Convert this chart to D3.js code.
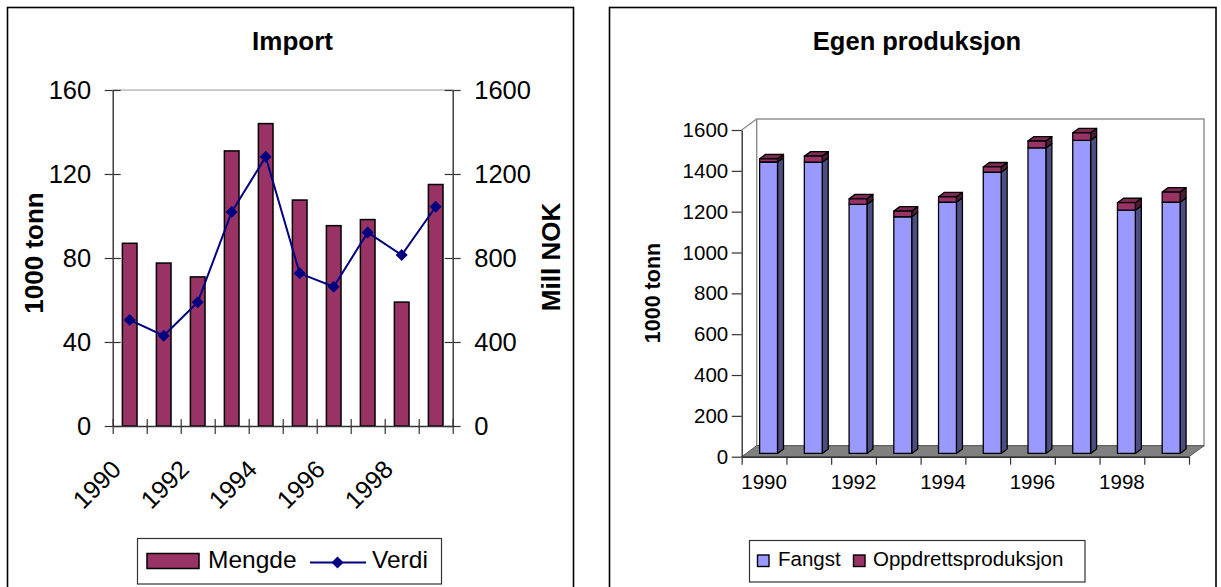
<!DOCTYPE html>
<html>
<head>
<meta charset="utf-8">
<script src="https://cdn.jsdelivr.net/npm/d3@7"></script>
<style>
  html, body { margin: 0; padding: 0; background: #fff; }
  svg { display: block; }
  text { font-family: "Liberation Sans", Arial, Helvetica, sans-serif; fill: #000; }
</style>
</head>
<body>
<svg id="chart" width="1221" height="587"></svg>
<script>
// ---------- data ----------
const years = ["1990", "1991", "1992", "1993", "1994", "1995", "1996", "1997", "1998", "1999"];
const yearLabels = ["1990", "1992", "1994", "1996", "1998"];

// Import: quantity (1000 tonn) and value (Mill NOK)
const mengde = [87, 77.6, 71, 131, 144, 107.6, 95.4, 98.3, 59, 115];
const verdi = [505, 430, 589, 1019, 1282, 727, 663, 922, 814, 1044];
const mengdeTicks = [0, 40, 80, 120, 160];
const verdiTicks = [0, 400, 800, 1200, 1600];

// Own production (1000 tonn): catch and aquaculture
const fangst = [1427, 1426, 1220, 1159, 1230, 1377, 1496, 1533, 1191, 1230];
const oppdrett = [16, 30, 27, 28, 27, 26, 34, 37, 37, 50];
const prodTicks = [0, 200, 400, 600, 800, 1000, 1200, 1400, 1600];

const svg = d3.select("#chart");
const AXIS = "#333";
const plain = d3.format("d");

// ---------- panel frames ----------
svg.append("rect").attr("x", 7.5).attr("y", 7.5).attr("width", 566).attr("height", 600)
  .attr("fill", "#fff").attr("stroke", "#000").attr("stroke-width", 1.6);
svg.append("rect").attr("x", 609.5).attr("y", 7.5).attr("width", 606.5).attr("height", 600)
  .attr("fill", "#fff").attr("stroke", "#000").attr("stroke-width", 1.6);

// diamond marker path
const diamond = r => `M0,${-r}L${r},0L0,${r}L${-r},0Z`;

// =====================================================
// Import chart
// =====================================================
(function importChart() {
  const x0 = 112.7, x1 = 452.7, yb = 426, yt = 90;
  const xCat = d3.scaleBand().domain(years).range([x0, x1]);
  const xEdge = d3.scaleLinear().domain([0, years.length]).range([x0, x1]);
  const yQ = d3.scaleLinear().domain([0, 160]).range([yb, yt]);
  const yV = d3.scaleLinear().domain([0, 1600]).range([yb, yt]);
  const g = svg.append("g");

  // title
  g.append("text").attr("x", 292.5).attr("y", 50).attr("text-anchor", "middle")
    .attr("font-weight", "bold").attr("font-size", 26).text("Import");

  // top border of plot area
  g.append("line").attr("x1", x0).attr("x2", x1).attr("y1", yt).attr("y2", yt)
    .attr("stroke", "#9a9a9a").attr("stroke-width", 1.2);

  // bars
  const barW = xCat.bandwidth() * 0.43;
  g.selectAll("rect.bar").data(mengde).join("rect").attr("class", "bar")
    .attr("x", (d, i) => xCat(years[i]) + (xCat.bandwidth() - barW) / 2)
    .attr("width", barW)
    .attr("y", d => yQ(d))
    .attr("height", d => yb - yQ(d))
    .attr("fill", "#993366").attr("stroke", "#000").attr("stroke-width", 1.5);

  // left axis with crossing ticks
  const axL = g.append("g").attr("transform", `translate(${x0},0)`)
    .call(d3.axisLeft(yQ).tickValues(mengdeTicks).tickFormat(plain)
      .tickSizeInner(8).tickSizeOuter(0).tickPadding(13.5));
  axL.selectAll(".tick").append("line").attr("x2", 8).attr("stroke", AXIS);
  // right axis
  const axR = g.append("g").attr("transform", `translate(${x1},0)`)
    .call(d3.axisRight(yV).tickValues(verdiTicks).tickFormat(plain)
      .tickSizeInner(8).tickSizeOuter(0).tickPadding(13.5));
  axR.selectAll(".tick").append("line").attr("x2", -8).attr("stroke", AXIS);
  // bottom axis: ticks on category edges
  const axB = g.append("g").attr("transform", `translate(0,${yb})`)
    .call(d3.axisBottom(xEdge).ticks(years.length).tickFormat("").tickSizeInner(8).tickSizeOuter(0));
  axB.selectAll(".tick").append("line").attr("y2", -7).attr("stroke", AXIS);

  [axL, axR, axB].forEach(a => {
    a.select(".domain").attr("stroke", AXIS).attr("stroke-width", 1.4);
    a.selectAll(".tick line").attr("stroke", AXIS).attr("stroke-width", 1.2);
    a.selectAll(".tick text").attr("font-size", 25.5).attr("fill", "#000")
      .attr("font-family", "\"Liberation Sans\", Arial, sans-serif");
  });

  // rotated year labels
  g.selectAll("text.xl").data(yearLabels).join("text").attr("class", "xl")
    .attr("text-anchor", "end").attr("font-size", 25)
    .attr("transform", d => `translate(${xCat(d) + xCat.bandwidth() / 2 - 7},${yb + 45}) rotate(-45)`)
    .text(d => d);

  // value line with diamonds
  const line = d3.line().x((d, i) => xCat(years[i]) + xCat.bandwidth() / 2).y(d => yV(d));
  g.append("path").attr("d", line(verdi)).attr("fill", "none")
    .attr("stroke", "#000080").attr("stroke-width", 2);
  g.selectAll("path.mk").data(verdi).join("path").attr("class", "mk")
    .attr("d", diamond(6))
    .attr("transform", (d, i) => `translate(${xCat(years[i]) + xCat.bandwidth() / 2},${yV(d)})`)
    .attr("fill", "#000080");

  // axis titles
  g.append("text").attr("transform", "translate(43,253) rotate(-90)").attr("text-anchor", "middle")
    .attr("font-weight", "bold").attr("font-size", 26).text("1000 tonn");
  g.append("text").attr("transform", "translate(560,257) rotate(-90)").attr("text-anchor", "middle")
    .attr("font-weight", "bold").attr("font-size", 26).text("Mill NOK");

  // legend
  const lg = g.append("g");
  lg.append("rect").attr("x", 137.5).attr("y", 538.5).attr("width", 304).attr("height", 45.5)
    .attr("fill", "#fff").attr("stroke", "#333").attr("stroke-width", 1.2);
  lg.append("rect").attr("x", 147).attr("y", 553.5).attr("width", 52).attr("height", 15)
    .attr("fill", "#993366").attr("stroke", "#000").attr("stroke-width", 1.5);
  lg.append("text").attr("x", 208).attr("y", 568).attr("font-size", 24.5).text("Mengde");
  lg.append("line").attr("x1", 310).attr("x2", 366).attr("y1", 562.5).attr("y2", 562.5)
    .attr("stroke", "#000080").attr("stroke-width", 2);
  lg.append("path").attr("d", diamond(6)).attr("transform", "translate(337.5,562.5)").attr("fill", "#000080");
  lg.append("text").attr("x", 372).attr("y", 568).attr("font-size", 24.5).text("Verdi");
})();

// =====================================================
// Own production chart (3D stacked columns)
// =====================================================
(function productionChart() {
  const x0 = 741.7, x1 = 1189, yb = 456.7, yt = 130;
  const DX = 15, DY = -11;          // full depth offset of the 3D box
  const zF = 0.3, zB = 0.7;         // column depth position
  const xCat = d3.scaleBand().domain(years).range([x0, x1]);
  const xEdge = d3.scaleLinear().domain([0, years.length]).range([x0, x1]);
  const y = d3.scaleLinear().domain([0, 1600]).range([yb, yt]);
  const g = svg.append("g");

  g.append("text").attr("x", 917).attr("y", 50).attr("text-anchor", "middle")
    .attr("font-weight", "bold").attr("font-size", 25.5).text("Egen produksjon");

  // back wall and side wall edges
  g.append("rect").attr("x", x0 + DX).attr("y", y(1600) + DY)
    .attr("width", x1 - x0).attr("height", y(0) - y(1600))
    .attr("fill", "#fff").attr("stroke", "#8c8c8c").attr("stroke-width", 1.4);
  g.append("line").attr("x1", x0).attr("y1", y(1600)).attr("x2", x0 + DX).attr("y2", y(1600) + DY)
    .attr("stroke", "#8c8c8c").attr("stroke-width", 1.4);

  // floor
  g.append("path")
    .attr("d", `M${x0},${y(0)}L${x0 + DX},${y(0) + DY}L${x1 + DX},${y(0) + DY}L${x1},${y(0)}Z`)
    .attr("fill", "#808080").attr("stroke", "#555").attr("stroke-width", 1);

  // columns
  const barW = xCat.bandwidth() * 0.4;
  const fx = DX * zF, fy = DY * zF, bx = DX * zB, by = DY * zB;
  const series = [
    { vals: fangst, base: null, front: "#9999ff", side: "#4d4d80", top: "#7a7acc" },
    { vals: oppdrett, base: fangst, front: "#993366", side: "#4d1a33", top: "#7a2952" }
  ];
  const segs = [];
  years.forEach((yr, i) => {
    series.forEach((s, k) => {
      const v0 = s.base ? s.base[i] : 0;
      const v1 = v0 + s.vals[i];
      segs.push({ i, yr, v0, v1, s, last: k === series.length - 1 });
    });
  });
  const bg = g.append("g").attr("stroke", "#000").attr("stroke-width", 1.3).attr("stroke-linejoin", "round");
  segs.forEach(d => {
    const xl = xCat(d.yr) + (xCat.bandwidth() - barW) / 2, xr = xl + barW;
    const yT = y(d.v1), yB = y(d.v0);
    bg.append("path")
      .attr("d", `M${xr + fx},${yT + fy}L${xr + bx},${yT + by}L${xr + bx},${yB + by}L${xr + fx},${yB + fy}Z`)
      .attr("fill", d.s.side);
    if (d.last) {
      bg.append("path")
        .attr("d", `M${xl + fx},${yT + fy}L${xl + bx},${yT + by}L${xr + bx},${yT + by}L${xr + fx},${yT + fy}Z`)
        .attr("fill", d.s.top);
    }
    bg.append("rect").attr("x", xl + fx).attr("y", yT + fy).attr("width", barW).attr("height", yB - yT)
      .attr("fill", d.s.front);
  });

  // axes
  const axL = g.append("g").attr("transform", `translate(${x0},0)`)
    .call(d3.axisLeft(y).tickValues(prodTicks).tickFormat(plain)
      .tickSizeInner(10).tickSizeOuter(0).tickPadding(3.5));
  const axB = g.append("g").attr("transform", `translate(0,${yb})`)
    .call(d3.axisBottom(xEdge).ticks(years.length).tickFormat("").tickSizeInner(8).tickSizeOuter(0));
  const axX = g.append("g").attr("transform", `translate(0,${yb})`)
    .call(d3.axisBottom(xCat).tickValues(yearLabels).tickSize(0).tickPadding(18));
  axX.select(".domain").remove();
  [axL, axB, axX].forEach(a => {
    a.select(".domain").attr("stroke", AXIS).attr("stroke-width", 1.4);
    a.selectAll(".tick line").attr("stroke", AXIS).attr("stroke-width", 1.2);
    a.selectAll(".tick text").attr("font-size", 20.5).attr("fill", "#000")
      .attr("font-family", "\"Liberation Sans\", Arial, sans-serif");
  });

  g.append("text").attr("transform", "translate(660,293) rotate(-90)").attr("text-anchor", "middle")
    .attr("font-weight", "bold").attr("font-size", 21.5).text("1000 tonn");

  // legend
  const lg = g.append("g");
  lg.append("rect").attr("x", 749.5).attr("y", 540.5).attr("width", 335.5).attr("height", 41.5)
    .attr("fill", "#fff").attr("stroke", "#333").attr("stroke-width", 1.2);
  lg.append("rect").attr("x", 757.5).attr("y", 555).attr("width", 11.5).attr("height", 11.5)
    .attr("fill", "#9999ff").attr("stroke", "#000").attr("stroke-width", 1.4);
  lg.append("text").attr("x", 778).attr("y", 566).attr("font-size", 20.5).text("Fangst");
  lg.append("rect").attr("x", 853.5).attr("y", 555).attr("width", 11.5).attr("height", 11.5)
    .attr("fill", "#993366").attr("stroke", "#000").attr("stroke-width", 1.4);
  lg.append("text").attr("x", 873).attr("y", 566).attr("font-size", 20.5).text("Oppdrettsproduksjon");
})();
</script>
</body>
</html>
